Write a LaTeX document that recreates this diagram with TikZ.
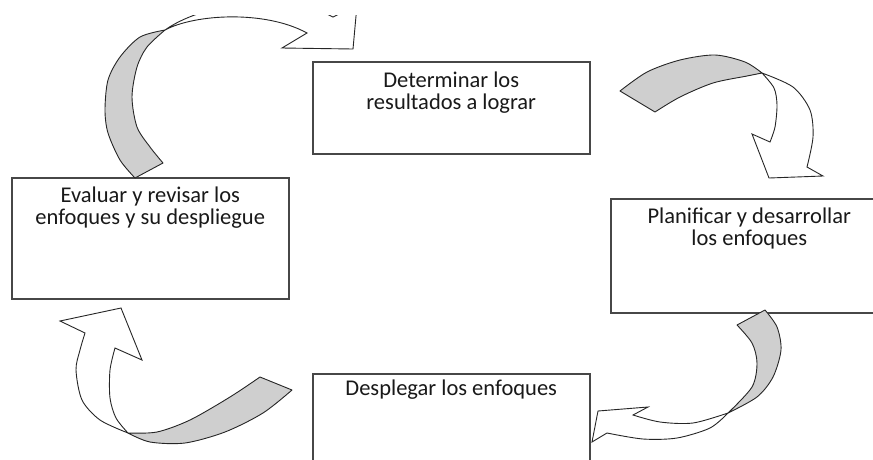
\documentclass[tikz,border=0pt]{standalone}
\usepackage{fontspec}
\setmainfont{Carlito}
\begin{document}
\begin{tikzpicture}[x=1pt,y=-1pt,
  box/.style={draw=black!72, line width=1.5pt, fill=white, inner sep=0pt, anchor=north west},
  lbl/.style={anchor=base, inner sep=0pt, text=black!90, font=\fontsize{22.5}{22}\selectfont},
  band/.style={draw=black!85, line width=0.9pt, fill=black!19, line join=round},
  body/.style={draw=black!85, line width=0.9pt, fill=white, line join=miter}]
\useasboundingbox (0,0) rectangle (873,459);
\clip (0,0) rectangle (873,459);

% the four stages of the cycle
\node[box, minimum width=277pt, minimum height=92pt]  (det) at (312,61)  {};
\node[box, minimum width=277pt, minimum height=114pt] (pla) at (610,198) {};
\node[box, minimum width=277pt, minimum height=121pt] (eva) at (11,177)  {};
\node[box, minimum width=277pt, minimum height=100pt] (des) at (312,373) {};

\node[lbl] (detT) at ([yshift=-26pt]det.north) {\begin{tabular}[t]{@{}c@{}}Determinar los\\resultados a lograr\end{tabular}};
\node[lbl] (plaT) at ([yshift=-25pt]pla.north) {\begin{tabular}[t]{@{}c@{}}Planificar y desarrollar\\los enfoques\end{tabular}};
\node[lbl] (evaT) at ([yshift=-25pt]eva.north) {\begin{tabular}[t]{@{}c@{}}Evaluar y revisar los\\enfoques y su despliegue\end{tabular}};
\node[lbl] (desT) at ([yshift=-22pt]des.north) {Desplegar los enfoques};

% curved arrow: evaluate -> determine
\path[band] (135,178) -- plot[smooth] coordinates {(135,178) (120,160) (108,133) (105,110) (108,80) (120,57) (140,37) (165,30)}
  -- plot[smooth] coordinates {(165,30) (147,47) (137,67) (132,97) (137,127) (150,147) (163,163)} -- cycle;
\begin{scope}
  \clip (0,15.5) rectangle (873,459);
  \path[body] (165,30) .. controls (195,14) and (265,10) .. (307,33) -- (282,48) -- (353,49) -- (357,5) -- (333,17)
    .. controls (280,-10) and (200,5) .. (165,30) -- cycle;
\end{scope}

% curved arrow: determine -> plan
\path[band] (620,91) -- plot[smooth] coordinates {(620,91) (647,72) (680,60) (715,55) (745,62) (762,73)}
  -- plot[smooth] coordinates {(762,73) (747,76) (713,83) (680,97) (655,112)} -- cycle;
\path[body] (762,73) -- plot[smooth] coordinates {(762,73) (774,88) (777,105) (775,127) (770,142)}
  -- (752,134) -- (769,178) -- (823,176) -- (807,167)
  -- plot[smooth] coordinates {(807,167) (813,137) (810,110) (793,87) (762,73)} -- cycle;

% curved arrow: plan -> deploy
\path[band] (765,310) -- plot[smooth] coordinates {(765,310) (777,327) (781,350) (773,377) (757,397) (728,413)}
  -- plot[smooth] coordinates {(728,413) (752,387) (757,363) (752,343) (737,325)} -- cycle;
\path[body] (728,413) -- plot[smooth] coordinates {(728,413) (693,423) (660,422) (633,415)}
  -- (648,407) -- (598,411) -- (592,442) -- (607,433)
  -- plot[smooth] coordinates {(607,433) (643,439) (677,438) (710,428) (728,413)} -- cycle;

% curved arrow: deploy -> evaluate
\path[band] (292,390) -- plot[smooth] coordinates {(292,390) (263,413) (225,432) (185,443) (150,442) (128,433)}
  -- plot[smooth] coordinates {(128,433) (157,432) (190,420) (230,397) (260,377)} -- cycle;
\path[body] (128,433) -- plot[smooth] coordinates {(128,433) (100,420) (82,400) (76,370) (80,350) (85,333)}
  -- (60,321) -- (121,308) -- (142,360) -- (115,348)
  -- plot[smooth] coordinates {(115,348) (110,370) (110,398) (116,418) (128,433)} -- cycle;
\end{tikzpicture}
\end{document}
